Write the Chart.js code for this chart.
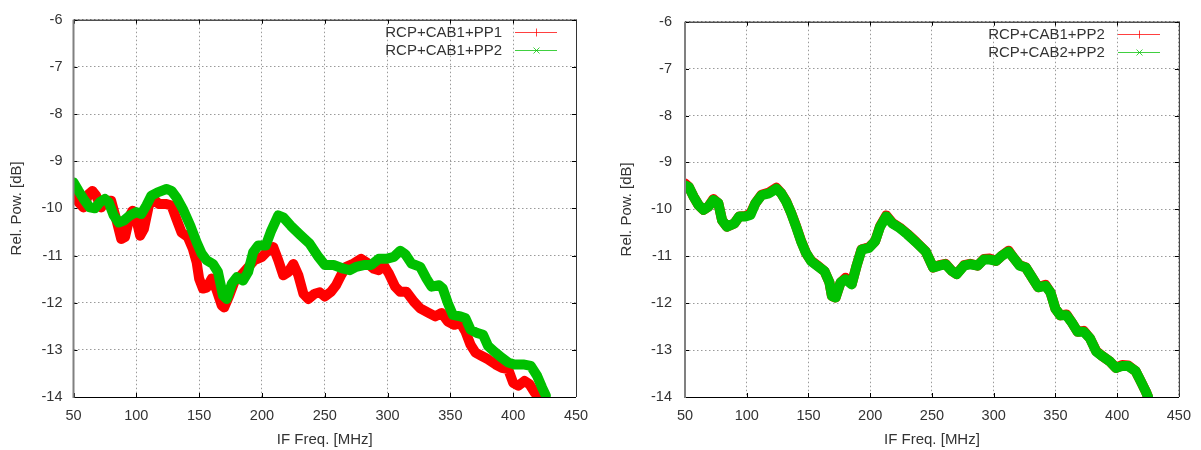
<!DOCTYPE html>
<html>
<head>
<meta charset="utf-8">
<script src="https://cdn.jsdelivr.net/npm/chart.js@4.4.0/dist/chart.umd.min.js"></script>
<style>
  body { margin: 0; background: #fff; width: 1201px; height: 450px; overflow: hidden; position: relative; }
  .panel { position: absolute; top: 0; height: 450px; }
</style>
</head>
<body>
<div class="panel" style="left:0;width:600px"><canvas id="leftChart" width="600" height="450"></canvas></div>
<div class="panel" style="left:600px;width:601px"><canvas id="rightChart" width="601" height="450"></canvas></div>
<script>
// axis ticks
const freqTicks = [50, 100, 150, 200, 250, 300, 350, 400, 450];
const powTicks = [-14, -13, -12, -11, -10, -9, -8, -7, -6];

// left panel: RCP+CAB1+PP1 (red)
const leftFreqPP1 = [50, 54, 58, 62, 65, 68, 72, 76, 80, 84,
  88, 91, 95, 97, 100, 103, 106, 110, 114, 118,
  124, 128, 132, 136, 141, 145, 148, 150, 153, 156,
  160, 164, 168, 170, 174, 178, 182, 188, 194, 200,
  205, 209, 213, 217, 221, 225, 229, 233, 237, 242,
  246, 250, 255, 259, 263, 267, 273, 279, 283, 289,
  293, 297, 301, 306, 310, 315, 321, 326, 333, 338,
  343, 348, 353, 358, 362, 366, 370, 375, 380, 386,
  391, 396, 400, 404, 409, 413, 417, 420];
const leftPowPP1 = [-9.70, -9.87, -9.98, -9.70, -9.63, -9.73, -9.98, -9.84, -9.84, -10.23,
  -10.65, -10.61, -10.15, -10.05, -10.23, -10.58, -10.44, -9.94, -9.80, -9.91,
  -9.91, -9.94, -10.23, -10.51, -10.61, -10.86, -11.14, -11.49, -11.70, -11.68,
  -11.49, -11.74, -12.06, -12.10, -11.85, -11.56, -11.46, -11.28, -11.10, -11.03,
  -10.89, -10.82, -11.10, -11.42, -11.35, -11.18, -11.42, -11.81, -11.92, -11.81,
  -11.78, -11.87, -11.77, -11.63, -11.42, -11.24, -11.17, -11.07, -11.14, -11.28,
  -11.31, -11.21, -11.38, -11.66, -11.77, -11.77, -11.98, -12.12, -12.22, -12.29,
  -12.22, -12.40, -12.47, -12.43, -12.61, -12.89, -13.06, -13.13, -13.20, -13.31,
  -13.38, -13.41, -13.70, -13.76, -13.66, -13.73, -13.90, -14.00];

// left panel: RCP+CAB1+PP2 (green)
const leftFreqPP2 = [50, 54, 58, 63, 67, 71, 75, 78, 82, 86,
  90, 95, 100, 104, 108, 112, 117, 124, 128, 132,
  137, 143, 148, 152, 156, 161, 165, 169, 172, 176,
  180, 185, 189, 193, 197, 203, 207, 213, 217, 223,
  230, 238, 245, 250, 257, 265, 270, 275, 282, 287,
  293, 299, 305, 310, 314, 319, 326, 331, 335, 341,
  344, 348, 352, 358, 362, 366, 371, 376, 380, 386,
  391, 396, 401, 408, 414, 419, 423, 426];
const leftPowPP2 = [-9.45, -9.63, -9.80, -9.98, -10.00, -9.87, -9.80, -9.87, -10.15, -10.30,
  -10.26, -10.15, -10.08, -10.12, -9.94, -9.73, -9.66, -9.59, -9.63, -9.77,
  -10.01, -10.37, -10.72, -10.96, -11.10, -11.18, -11.35, -11.85, -11.92, -11.60,
  -11.46, -11.53, -11.35, -10.93, -10.79, -10.79, -10.50, -10.15, -10.19, -10.37,
  -10.55, -10.75, -11.03, -11.20, -11.20, -11.28, -11.31, -11.24, -11.20, -11.20,
  -11.07, -11.07, -11.03, -10.90, -10.97, -11.17, -11.24, -11.49, -11.66, -11.63,
  -11.70, -12.01, -12.26, -12.29, -12.33, -12.57, -12.64, -12.68, -12.92, -13.06,
  -13.17, -13.27, -13.31, -13.31, -13.34, -13.55, -13.80, -13.97];

// right panel: shared frequencies
const rightFreq = [50, 53, 57, 61, 65, 69, 73, 77, 80, 84,
  90, 94, 99, 103, 107, 112, 118, 124, 128, 132,
  136, 140, 144, 148, 152, 157, 163, 167, 169, 172,
  176, 180, 185, 189, 193, 199, 204, 208, 213, 218,
  224, 230, 237, 245, 251, 256, 261, 266, 270, 276,
  281, 287, 292, 297, 302, 306, 312, 316, 321, 326,
  332, 336, 342, 346, 350, 354, 359, 363, 368, 373,
  378, 383, 388, 394, 399, 404, 409, 415, 419, 423, 425];
// RCP+CAB1+PP2 (red)
const rightPowCAB1 = [-9.45, -9.52, -9.73, -9.91, -10.01, -9.94, -9.78, -9.87, -10.23, -10.37,
  -10.30, -10.15, -10.14, -10.09, -9.87, -9.69, -9.64, -9.54, -9.66, -9.83,
  -10.08, -10.36, -10.67, -10.93, -11.09, -11.19, -11.32, -11.56, -11.85, -11.88,
  -11.56, -11.46, -11.59, -11.20, -10.85, -10.81, -10.68, -10.36, -10.13, -10.29,
  -10.39, -10.52, -10.69, -10.90, -11.24, -11.19, -11.16, -11.31, -11.38, -11.19,
  -11.16, -11.20, -11.06, -11.05, -11.10, -11.00, -10.88, -11.03, -11.19, -11.24,
  -11.49, -11.66, -11.61, -11.77, -12.12, -12.26, -12.24, -12.40, -12.61, -12.59,
  -12.75, -13.02, -13.13, -13.24, -13.38, -13.32, -13.33, -13.45, -13.66, -13.87, -14.00];
// RCP+CAB2+PP2 (green)
const rightPowCAB2 = [-9.49, -9.52, -9.73, -9.91, -10.01, -9.94, -9.80, -9.87, -10.23, -10.37,
  -10.30, -10.15, -10.15, -10.12, -9.87, -9.70, -9.66, -9.56, -9.66, -9.84,
  -10.08, -10.37, -10.68, -10.93, -11.10, -11.20, -11.32, -11.56, -11.85, -11.88,
  -11.56, -11.49, -11.60, -11.20, -10.86, -10.82, -10.68, -10.37, -10.15, -10.30,
  -10.40, -10.53, -10.70, -10.90, -11.24, -11.20, -11.17, -11.31, -11.38, -11.20,
  -11.17, -11.20, -11.07, -11.07, -11.10, -11.00, -10.90, -11.03, -11.20, -11.24,
  -11.49, -11.66, -11.63, -11.77, -12.12, -12.26, -12.26, -12.40, -12.61, -12.61,
  -12.75, -13.03, -13.13, -13.24, -13.38, -13.34, -13.34, -13.45, -13.66, -13.87, -14.00];

const RED = '#ff0000';
const GREEN = '#00c000';
const FONT = '"Liberation Sans", Arial, sans-serif';
const TEXT = '#333333';

function toPoints(xs, ys) {
  return xs.map((x, i) => ({ x: x, y: ys[i] }));
}

// gnuplot style frame with inward tick marks and a key in the top right corner
const framePlugin = {
  id: 'frame',
  afterDatasetsDraw(chart) {
    const { ctx, chartArea: a, scales } = chart;
    ctx.save();
    // ticks
    ctx.strokeStyle = '#000';
    ctx.lineWidth = 1;
    ctx.beginPath();
    freqTicks.forEach(v => {
      const px = Math.round(scales.x.getPixelForValue(v)) + 0.5;
      ctx.moveTo(px, a.bottom); ctx.lineTo(px, a.bottom - 4);
      ctx.moveTo(px, a.top); ctx.lineTo(px, a.top + 4);
    });
    powTicks.forEach(v => {
      const py = Math.round(scales.y.getPixelForValue(v)) + 0.5;
      ctx.moveTo(a.left, py); ctx.lineTo(a.left + 4, py);
      ctx.moveTo(a.right, py); ctx.lineTo(a.right - 4, py);
    });
    ctx.stroke();
    // border
    ctx.beginPath();
    ctx.strokeStyle = '#000';
    ctx.moveTo(a.left, a.top + 0.5); ctx.lineTo(a.right, a.top + 0.5);
    ctx.moveTo(a.left, a.bottom + 0.5); ctx.lineTo(a.right, a.bottom + 0.5);
    ctx.stroke();
    ctx.beginPath();
    ctx.strokeStyle = '#333';
    ctx.moveTo(a.right + 0.5, a.top); ctx.lineTo(a.right + 0.5, a.bottom);
    ctx.stroke();
    ctx.beginPath();
    ctx.strokeStyle = '#808080';
    ctx.lineWidth = 2;
    ctx.moveTo(a.left, a.top); ctx.lineTo(a.left, a.bottom + 1);
    ctx.stroke();

    // key
    ctx.font = '15px ' + FONT;
    ctx.textAlign = 'right';
    ctx.textBaseline = 'middle';
    chart.data.datasets.slice().sort((d1, d2) => d1.keyRow - d2.keyRow).forEach((ds, i) => {
      const y = Math.round(a.top + 12 + i * 18) + 0.5;
      ctx.fillStyle = TEXT;
      ctx.fillText(ds.label, a.right - 74, y);
      const x0 = Math.round(a.right - 61), x1 = Math.round(a.right - 19), xm = Math.round((x0 + x1) / 2) + 0.5;
      ctx.strokeStyle = ds.borderColor;
      ctx.globalAlpha = 0.75;
      ctx.lineWidth = 1;
      ctx.beginPath();
      ctx.moveTo(x0, y); ctx.lineTo(x1, y);
      if (ds.keyMarker === 'plus') {
        ctx.moveTo(xm, y - 4); ctx.lineTo(xm, y + 4);
      } else {
        ctx.moveTo(xm - 3, y - 3); ctx.lineTo(xm + 3, y + 3);
        ctx.moveTo(xm - 3, y + 3); ctx.lineTo(xm + 3, y - 3);
      }
      ctx.stroke();
      ctx.globalAlpha = 1;
    });
    ctx.restore();
  }
};

function makeChart(id, series, axisWidth, rightPad, tickPad, titlePad) {
  return new Chart(document.getElementById(id), {
    type: 'line',
    data: {
      datasets: series.map(s => ({
        label: s.label,
        data: toPoints(s.freq, s.pow),
        borderColor: s.color,
        backgroundColor: s.color,
        borderWidth: 10,
        borderJoinStyle: 'round',
        borderCapStyle: 'round',
        pointRadius: 0,
        tension: 0,
        fill: false,
        order: s.order,
        keyRow: s.keyRow,
        keyMarker: s.marker
      }))
    },
    options: {
      responsive: false,
      animation: false,
      layout: { padding: { top: 19, right: rightPad, bottom: 0, left: 0 } },
      plugins: { legend: { display: false }, tooltip: { enabled: false } },
      scales: {
        x: {
          type: 'linear',
          min: 50,
          max: 450,
          afterFit: s => { s.height = 53; },
          afterBuildTicks: s => { s.ticks = freqTicks.map(v => ({ value: v })); },
          ticks: { color: TEXT, font: { family: FONT, size: 14.5 }, padding: 10, maxRotation: 0 },
          grid: { color: '#9a9a9a', drawTicks: false },
          border: { display: false, dash: [1.5, 2.5] },
          title: { display: true, text: 'IF Freq. [MHz]', color: TEXT, font: { family: FONT, size: 15 }, padding: { top: 0, bottom: 1 } }
        },
        y: {
          min: -14,
          max: -6,
          afterFit: s => { s.width = axisWidth; },
          afterBuildTicks: s => { s.ticks = powTicks.map(v => ({ value: v })); },
          ticks: { color: TEXT, font: { family: FONT, size: 14.5 }, padding: tickPad },
          grid: { color: '#9a9a9a', drawTicks: false },
          border: { display: false, dash: [1.5, 2.5] },
          title: { display: true, text: 'Rel. Pow. [dB]', color: TEXT, font: { family: FONT, size: 15 }, padding: { top: titlePad, bottom: 0 } }
        }
      }
    },
    plugins: [framePlugin]
  });
}

makeChart('leftChart', [
  { label: 'RCP+CAB1+PP1', freq: leftFreqPP1, pow: leftPowPP1, color: RED, order: 1, keyRow: 0, marker: 'plus' },
  { label: 'RCP+CAB1+PP2', freq: leftFreqPP2, pow: leftPowPP2, color: GREEN, order: 0, keyRow: 1, marker: 'cross' }
], 73.5, 24, 11, 8);

makeChart('rightChart', [
  { label: 'RCP+CAB1+PP2', freq: rightFreq, pow: rightPowCAB1, color: RED, order: 1, keyRow: 0, marker: 'plus' },
  { label: 'RCP+CAB2+PP2', freq: rightFreq, pow: rightPowCAB2, color: GREEN, order: 0, keyRow: 1, marker: 'cross' }
], 85, 14.3, 13, 18);
</script>
</body>
</html>
